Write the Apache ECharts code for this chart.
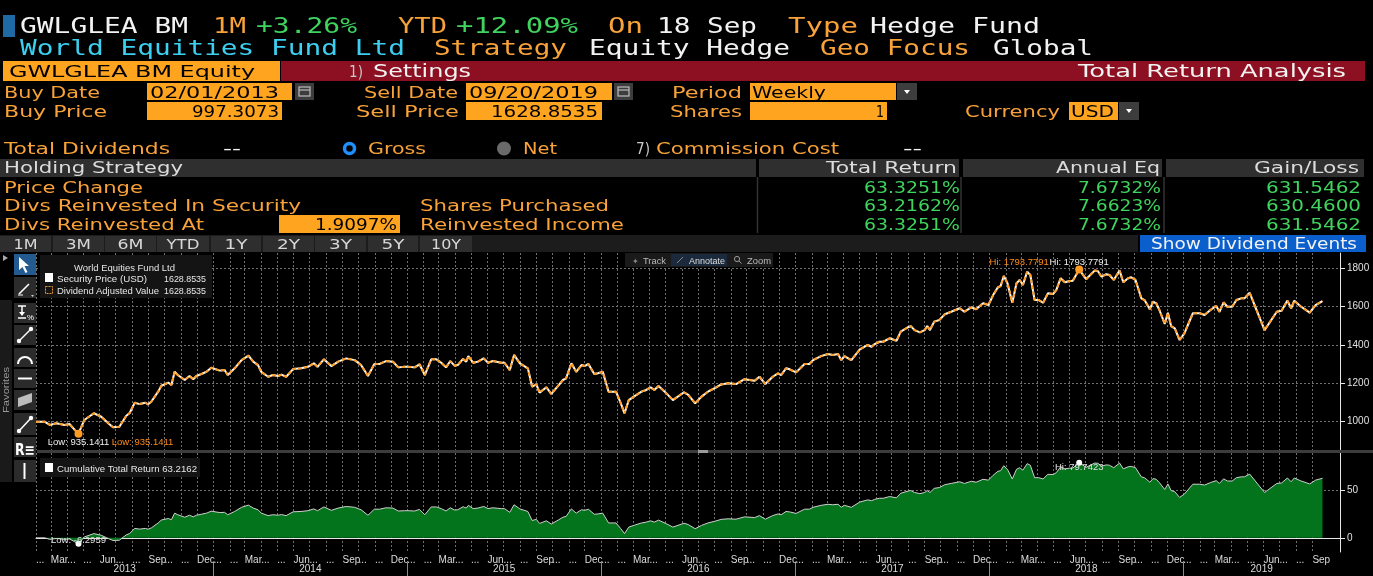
<!DOCTYPE html>
<html><head><meta charset="utf-8">
<script src="https://cdn.jsdelivr.net/npm/echarts@6/dist/echarts.min.js"></script>
<style>
html,body{margin:0;padding:0;background:#000;width:1373px;height:576px;overflow:hidden;}
#chart{position:absolute;left:0;top:0;width:1373px;height:576px;}
#ov{position:absolute;left:0;top:0;width:1373px;height:576px;pointer-events:none;}
</style></head>
<body>
<div id="chart"></div>
<svg id="ov" xmlns="http://www.w3.org/2000/svg" width="1373" height="576"></svg>
<script>
// ---------------- DATA ----------------
const DATES = [
'2013-02-01','2013-02-17','2013-02-27','2013-03-11','2013-03-27','2013-04-05','2013-04-15','2013-04-22','2013-05-03','2013-05-21',
'2013-06-04','2013-06-17','2013-06-26','2013-07-08','2013-07-21','2013-07-27','2013-08-06','2013-08-15','2013-08-26','2013-08-31',
'2013-09-06','2013-09-19','2013-09-25','2013-10-08','2013-10-14','2013-10-20','2013-10-26','2013-11-08','2013-11-17','2013-11-24',
'2013-11-30','2013-12-09','2013-12-19','2013-12-28','2014-01-13','2014-01-22','2014-01-28','2014-02-10','2014-02-23','2014-03-08',
'2014-03-17','2014-03-26','2014-04-01','2014-04-14','2014-04-23','2014-05-03','2014-05-09','2014-05-18','2014-05-31','2014-06-15',
'2014-06-28','2014-07-09','2014-07-16','2014-07-28','2014-08-11','2014-08-24','2014-09-08','2014-09-24','2014-10-06','2014-10-19',
'2014-10-31','2014-11-10','2014-11-22','2014-12-05','2014-12-15','2014-12-27','2015-01-02','2015-01-15','2015-01-24','2015-02-03',
'2015-02-15','2015-02-25','2015-03-06','2015-03-15','2015-03-23','2015-03-31','2015-04-06','2015-04-16','2015-04-22','2015-04-26',
'2015-05-05','2015-05-14','2015-05-25','2015-06-02','2015-06-11','2015-06-27','2015-07-03','2015-07-13','2015-07-21','2015-08-01',
'2015-08-16','2015-08-24','2015-09-01','2015-09-07','2015-09-20','2015-09-29','2015-10-12','2015-10-21','2015-10-27','2015-11-06',
'2015-11-15','2015-11-25','2015-12-01','2015-12-08','2015-12-19','2015-12-26','2016-01-04','2016-01-15','2016-01-29','2016-02-07',
'2016-02-14','2016-02-22','2016-03-04','2016-03-17','2016-03-26','2016-04-03','2016-04-10','2016-04-18','2016-05-03','2016-05-15',
'2016-06-05','2016-06-13','2016-06-26','2016-07-08','2016-07-20','2016-08-02','2016-08-14','2016-08-27','2016-09-11','2016-09-27',
'2016-10-16','2016-10-25','2016-11-05','2016-11-19','2016-11-29','2016-12-05','2016-12-14','2016-12-21','2017-01-02','2017-01-18',
'2017-01-27','2017-02-03','2017-02-18','2017-03-03','2017-03-12','2017-03-22','2017-03-28','2017-04-03','2017-04-16','2017-05-02',
'2017-05-17','2017-05-24','2017-05-30','2017-06-08','2017-06-15','2017-06-27','2017-07-10','2017-07-18','2017-08-01','2017-08-06',
'2017-08-13','2017-08-23','2017-09-01','2017-09-06','2017-09-11','2017-09-19','2017-09-29','2017-10-09','2017-10-21','2017-11-06',
'2017-11-15','2017-11-28','2017-12-07','2017-12-20','2017-12-30','2018-01-08','2018-01-17','2018-01-22','2018-01-28','2018-02-04',
'2018-02-13','2018-02-21','2018-02-27','2018-03-05','2018-03-13','2018-03-19','2018-03-27','2018-04-04','2018-04-12','2018-04-21',
'2018-05-01','2018-05-07','2018-05-15','2018-05-23','2018-06-01','2018-06-07','2018-06-19','2018-07-02','2018-07-18','2018-07-24',
'2018-07-31','2018-08-09','2018-08-15','2018-08-23','2018-09-03','2018-09-10','2018-09-19','2018-09-25','2018-10-03','2018-10-14',
'2018-10-20','2018-10-30','2018-11-05','2018-11-11','2018-11-17','2018-11-27','2018-12-03','2018-12-09','2018-12-16','2018-12-25',
'2019-01-03','2019-01-19','2019-02-01','2019-02-10','2019-02-21','2019-03-04','2019-03-10','2019-03-18','2019-03-25','2019-04-03',
'2019-04-11','2019-04-20','2019-04-26','2019-05-06','2019-06-03','2019-06-26','2019-07-05','2019-07-16','2019-07-23','2019-07-29',
'2019-08-09','2019-08-27','2019-09-07','2019-09-20'
];
// Security price (USD) / dividend adjusted value
const PRICE = [
997.31,998,981,990,981,986,955,935.1411,1007,1042,
1024,990,969,972,1029,1042,1097,1090,1097,1089,
1102,1155,1186,1202,1190,1259,1242,1216,1237,1220,
1237,1247,1259,1280,1265,1268,1242,1277,1320,1343,
1312,1294,1259,1233,1242,1237,1244,1233,1273,1277,
1285,1303,1285,1324,1289,1312,1329,1320,1294,1237,
1300,1300,1315,1312,1282,1285,1285,1282,1298,1242,
1324,1324,1306,1282,1315,1291,1294,1326,1312,1341,
1306,1312,1329,1306,1315,1306,1306,1268,1347,1303,
1277,1181,1193,1150,1178,1143,1185,1216,1225,1303,
1259,1294,1289,1300,1247,1251,1259,1155,1155,1094,
1042,1111,1132,1155,1164,1178,1164,1185,1146,1111,
1152,1138,1094,1129,1155,1173,1193,1199,1195,1220,
1212,1233,1195,1233,1251,1242,1277,1272,1256,1300,
1300,1320,1341,1352,1347,1352,1320,1341,1320,1376,
1399,1390,1404,1416,1416,1434,1421,1469,1492,1498,
1477,1465,1477,1498,1477,1521,1530,1560,1573,1591,
1573,1596,1586,1617,1608,1660,1701,1707,1760,1722,
1620,1722,1739,1713,1782,1765,1634,1634,1620,1669,
1666,1687,1748,1727,1734,1735,1793.7791,1743,1788,1786,
1756,1769,1765,1739,1788,1727,1748,1753,1739,1643,
1634,1586,1625,1617,1582,1509,1568,1498,1486,1425,
1460,1565,1565,1556,1582,1603,1573,1622,1599,1599,
1634,1643,1643,1672,1477,1573,1578,1631,1591,1631,
1603,1568,1608,1628.8535
];
// Cumulative total return (%)
const CUM_RETURN = [
0,0.1,-1.6,-0.7,-1.6,-1.1,-4.2,-6.2959,1.0,4.5,
2.7,-0.7,-2.8,-2.5,3.2,4.5,10.0,9.3,10.0,9.2,
10.5,15.8,18.9,20.5,19.3,26.2,24.5,21.9,24.0,22.3,
24.0,25.0,26.2,28.3,26.8,27.1,24.5,28.0,32.4,34.7,
31.6,29.8,26.2,23.6,24.5,24.0,24.7,23.6,27.6,28.0,
28.8,30.7,28.8,32.8,29.2,31.6,33.3,32.4,29.8,24.0,
30.4,30.4,31.9,31.6,28.5,28.8,28.8,28.5,30.2,24.5,
32.8,32.8,31.0,28.5,31.9,29.5,29.8,33.0,31.6,34.5,
31.0,31.6,33.3,31.0,31.9,31.0,31.0,27.1,35.1,30.7,
28.0,18.4,19.6,15.3,18.1,14.6,18.8,21.9,22.8,30.7,
26.2,29.8,29.2,30.4,25.0,25.4,26.2,15.8,15.8,9.7,
4.5,11.4,13.5,15.8,16.7,18.1,16.7,18.8,14.9,11.4,
15.5,14.1,9.7,13.2,15.8,17.6,19.6,20.2,19.8,22.3,
21.5,23.6,19.8,23.6,25.4,24.5,28.0,27.5,25.9,30.4,
30.4,32.4,34.5,35.6,35.1,35.6,32.4,34.5,32.4,38.0,
40.3,39.4,40.8,42.0,42.0,43.8,42.5,47.3,49.6,50.2,
48.1,46.9,48.1,50.2,48.1,52.5,53.4,56.4,57.7,59.5,
57.7,60.0,59.0,62.1,61.2,66.4,70.6,71.2,76.5,72.7,
62.4,72.7,74.4,71.8,78.7,77.0,63.8,63.8,62.4,67.4,
67.1,69.2,75.3,73.2,73.9,74.0,79.7423,74.8,79.3,79.1,
76.1,77.4,77.0,74.4,79.3,73.2,75.3,75.8,74.4,64.7,
63.8,59.0,62.9,62.1,58.6,51.3,57.2,50.2,49.0,42.9,
46.4,56.9,56.9,56.0,58.6,60.7,57.7,62.6,60.3,60.3,
63.8,64.7,64.7,67.6,48.1,57.7,58.2,63.5,59.5,63.5,
60.7,57.2,61.2,63.2162
];
const PRICE_TICKS = [1000,1200,1400,1600,1800];
const RETURN_TICKS = [0,50];
const YEARS = [2013,2014,2015,2016,2017,2018,2019];
const MONTH_NAMES = ['Jan','Feb','Mar','Apr','May','Jun','Jul','Aug','Sep','Oct','Nov','Dec'];
const NAMED_MONTHS = [2,5,8,11];

// ---------------- OVERLAY (terminal header & chart decorations) ----------------
const O='#f9a23a', W='#f2f2f2', G='#3fd45e', C='#3ccff0', BOX='#ffa41f', HG='#dcdcdc';
const MONO='DejaVu Sans Mono, monospace', SANS='DejaVu Sans, sans-serif', SM='Liberation Sans, Arial, sans-serif';
let s='';
function R(x,y,w,h,f,ex){ s+=`<rect x="${x}" y="${y}" width="${w}" height="${h}" fill="${f}" ${ex||''}/>`; }
function T(x,y,w,t,f,size,fam,anchor,ex){ s+=`<text x="${x}" y="${y}" fill="${f}" font-size="${size}" font-family="${fam}" ${w?`textLength="${w}" lengthAdjust="spacingAndGlyphs"`:''} ${anchor?`text-anchor="${anchor}"`:''} ${ex||''}>${t}</text>`; }
function L(x1,y1,x2,y2,c,w,ex){ s+=`<line x1="${x1}" y1="${y1}" x2="${x2}" y2="${y2}" stroke="${c}" stroke-width="${w}" ${ex||''}/>`; }
function P(pts,f,ex){ s+=`<polygon points="${pts}" fill="${f}" ${ex||''}/>`; }
function cal(x,y){ R(x,y,19,17,'#3d3d3d'); R(x+4,y+4,11,9,'none','stroke="#bdbdbd" stroke-width="1.2"'); L(x+4,y+7,x+15,y+7,'#bdbdbd',1.2); }
function dd(x,y,h){ R(x,y,20,h||17,'#3d3d3d'); P(`${x+7},${y+7} ${x+13},${y+7} ${x+10},${y+11}`,'#fff'); }

// row 1
R(3,15,12,22,'#1f6aa5');
T(20,33,168,'GWLGLEA BM',W,21,MONO);
T(213,33,33,'1M',O,21,MONO);
T(256,33,101,'+3.26%',G,21,MONO);
T(398,33,49,'YTD',O,21,MONO);
T(456,33,122,'+12.09%',G,21,MONO);
T(608,33,35,'On',O,21,MONO);
T(657,33,100,'18 Sep',W,21,MONO);
T(788,33,70,'Type',O,21,MONO);
T(870,33,170,'Hedge Fund',W,21,MONO);
// row 2
T(20,55,385,'World Equities Fund Ltd',C,21,MONO);
T(434,55,133,'Strategy',O,21,MONO);
T(589,55,201,'Equity Hedge',W,21,MONO);
T(820,55,150,'Geo Focus',O,21,MONO);
T(993,55,100,'Global',W,21,MONO);
// row 3
R(3,61,277,20,BOX);
T(9,77,246,'GWLGLEA BM Equity','#000',16,SANS);
R(281,61,1084,20,'#8c1021');
T(349,77,14,'1)','#c8c8c8',15,SANS);
T(373,77,98,'Settings',W,17,SANS);
T(1078,77,268,'Total Return Analysis',W,17,SANS);
// row 4
T(4,98,96,'Buy Date',O,16,SANS);
R(147,83,145,17,BOX); T(150,98,129,'02/01/2013','#000',16,SANS); cal(295,83);
T(364,98,94,'Sell Date',O,16,SANS);
R(466,83,146,17,BOX); T(469,98,129,'09/20/2019','#000',16,SANS); cal(614,83);
T(672,98,70,'Period',O,16,SANS);
R(750,83,146,17,BOX); T(752,98,74,'Weekly','#000',16,SANS); dd(897,83);
// row 5
T(4,117,103,'Buy Price',O,16,SANS);
R(147,102,135,18,BOX); T(192,117,87,'997.3073','#000',16,SANS);
T(356,117,103,'Sell Price',O,16,SANS);
R(466,102,136,18,BOX); T(491,117,107,'1628.8535','#000',16,SANS);
T(670,117,72,'Shares',O,16,SANS);
R(750,102,137,18,BOX); T(876,117,8,'1','#000',16,SANS);
T(965,117,95,'Currency',O,16,SANS);
R(1069,102,49,18,BOX); T(1071,117,43,'USD','#000',16,SANS); dd(1119,102,18);
// row 6
T(4,154,166,'Total Dividends',O,16,SANS);
T(223,154,18,'--',W,16,SANS);
s+='<circle cx="349.5" cy="148.5" r="5" fill="#000" stroke="#1e8fff" stroke-width="3.5"/>';
T(368,154,58,'Gross',O,16,SANS);
s+='<circle cx="504" cy="148.5" r="7" fill="#6a6a6a"/>';
T(523,154,34,'Net',O,16,SANS);
T(636,154,14,'7)','#c8c8c8',15,SANS);
T(656,154,183,'Commission Cost',O,16,SANS);
T(903,154,19,'--',W,16,SANS);
// row 7 header
R(0,159,756,18,'#2f2f2f'); R(759,159,200,18,'#2f2f2f'); R(963,159,199,18,'#2f2f2f'); R(1166,159,198,18,'#2f2f2f');
T(4,173,179,'Holding Strategy',HG,16,SANS);
T(826,173,131,'Total Return',HG,16,SANS);
T(1056,173,104,'Annual Eq',HG,16,SANS);
T(1254,173,105,'Gain/Loss',HG,16,SANS);
L(757.5,177,757.5,233,'#333',1.5); L(961,177,961,233,'#333',1.5); L(1164,177,1164,233,'#333',1.5);
// rows 8-10
T(4,193,139,'Price Change',O,16,SANS);
T(864,193,96,'63.3251%',G,16,SANS); T(1078,193,83,'7.6732%',G,16,SANS); T(1266,193,95,'631.5462',G,16,SANS);
T(4,211,297,'Divs Reinvested In Security',O,16,SANS);
T(420,211,189,'Shares Purchased',O,16,SANS);
T(864,211,96,'63.2162%',G,16,SANS); T(1078,211,83,'7.6623%',G,16,SANS); T(1266,211,95,'630.4600',G,16,SANS);
T(4,230,200,'Divs Reinvested At',O,16,SANS);
R(279,215,121,18,BOX); T(315,230,82,'1.9097%','#000',16,SANS);
T(420,230,204,'Reinvested Income',O,16,SANS);
T(864,230,96,'63.3251%',G,16,SANS); T(1078,230,83,'7.6732%',G,16,SANS); T(1266,230,95,'631.5462',G,16,SANS);
// row 11 buttons
R(0,235,1138,17,'#1c1c1c');
[[0,51,'1M',24],[53,51,'3M',25],[105,51,'6M',26],[157,52,'YTD',33],[211,50,'1Y',23],[263,51,'2Y',23],[315,51,'3Y',23],[368,50,'5Y',23],[420,52,'10Y',30]]
 .forEach(b=>{ R(b[0],236,b[1],16,'#2e2e2e'); T(b[0]+b[1]/2,249,b[3],b[2],'#d8d8d8',14,SANS,'middle'); });
R(1140,235,226,17,'#0b5fcc');
T(1151,249,206,'Show Dividend Events',W,15,SANS);

// left toolbar
P('3,255 3,261 8,258','#aaa');
R(0,300,12,182,'#1a1a1a');
s+=`<text transform="translate(9,413) rotate(-90)" fill="#9a9a9a" font-size="9" font-family="${SM}" textLength="46" lengthAdjust="spacingAndGlyphs">Favorites</text>`;
R(14,254,22,21,'#235a8f');
P('19,257 19,270 22.5,267 25.5,273 27.5,272 24.5,266 29,266','#fff');
R(14,277,22,21,'#2b2b2b'); L(19,294,29,284,'#fff',1.6); L(18,295,23,295,'#fff',1); P('31,295 34,295 32.5,297','#ccc');
R(14,303,22,20,'#2b2b2b'); L(18,306,26,306,'#fff',1.5); L(22,306,22,315,'#fff',1.5); P('19,312 25,312 22,316','#fff'); L(18,318,26,318,'#fff',1.5); T(27,320,7,'%','#fff',8,SM);
R(14,325,22,20,'#2b2b2b'); L(19,341,31,329,'#fff',1.5); s+='<circle cx="19" cy="341" r="2.2" fill="#fff"/><circle cx="31" cy="329" r="2.2" fill="#fff"/>';
R(14,348,22,19,'#2b2b2b'); s+='<path d="M18,364 A7,7 0 0 1 32,364" stroke="#fff" stroke-width="2" fill="none"/>';
R(14,369,22,19,'#2b2b2b'); L(18,378.5,32,378.5,'#fff',2);
R(14,390,22,20,'#2b2b2b'); P('18,407 32,402 32,393 18,398','#bcbcbc');
R(14,413,22,22,'#2b2b2b'); L(19,431,31,418,'#fff',1.5); s+='<circle cx="19" cy="431" r="2.2" fill="#fff"/><circle cx="31" cy="418" r="2.2" fill="#fff"/>';
R(14,437,22,20,'#2b2b2b'); T(15,455,20,'R≡','#fff',15,SANS,null,'font-weight="bold"');
R(14,460,22,22,'#2b2b2b'); L(24.5,463,24.5,479,'#fff',2);

// upper legend
R(40,255,172,43,'#141414');
T(74,270.5,101,'World Equities Fund Ltd','#e6e6e6',9.5,SM);
R(45,273,8,9,'#fff');
T(57,281.5,90,'Security Price (USD)','#e6e6e6',9.5,SM); T(164,281.5,42,'1628.8535','#e6e6e6',9.5,SM);
R(45.5,286.5,7,7,'none','stroke="#f39a2e" stroke-width="1" stroke-dasharray="2,1"');
T(57,293.5,102,'Dividend Adjusted Value','#e6e6e6',9.5,SM); T(164,293.5,42,'1628.8535','#e6e6e6',9.5,SM);

// track / annotate / zoom
R(625,253,148,14,'#1a1a1a'); R(671,254,56,12,'#1a2a3c');
T(632,263.5,0,'✦','#888',8,SANS);
T(643,263.5,23,'Track','#bbbbbb',9,SM);
L(677,263,683,257,'#888',1);
T(689,263.5,36,'Annotate','#dddddd',9,SM);
s+='<circle cx="737" cy="259" r="2.6" fill="none" stroke="#999" stroke-width="1"/>'; L(739,261,741.5,263.5,'#999',1);
T(747,263.5,24,'Zoom','#bbbbbb',9,SM);

// panel separator
R(37,450,1336,3,'#3c3c3c'); R(698,450,10,3,'#9a9a9a');

// lower legend
R(40,458,160,19,'#141414');
R(45,463,8,9,'#fff');
T(57,471.5,140,'Cumulative Total Return 63.2162','#e6e6e6',9.5,SM);

document.getElementById('ov').innerHTML = s;

// ---------------- CHART ----------------
function ts(str){ const p=str.split('-').map(Number); return +new Date(p[0],p[1]-1,p[2]); }
const AX_MIN = +new Date(2013,1,1);
const AX_MAX = +new Date(2019,9,23);
const MONTH_TICKS = [];
for (let d = new Date(2013,1,1); d <= new Date(2019,8,1); d = new Date(d.getFullYear(), d.getMonth()+1, 1)) MONTH_TICKS.push(+d);

const priceData = DATES.map((d,i)=>[ts(d), PRICE[i]]);
const retData = DATES.map((d,i)=>[ts(d), CUM_RETURN[i]]);

const yearAreas = YEARS.map(y=>[
  {xAxis: Math.max(AX_MIN, +new Date(y,0,1)), name: String(y)},
  {xAxis: Math.min(AX_MAX, +new Date(y+1,0,1))}
]);
const yearLines = YEARS.slice(1).map(y=>({xAxis: +new Date(y,0,1)}));

const FONT = 'Liberation Sans, Arial, sans-serif';
const GRIDLINE = {show:true, lineStyle:{color:'#707070', type:[2,2], width:1}};
const plain = v => String(v);

const option = {
  backgroundColor:'#000',
  animation:false,
  textStyle:{fontFamily:FONT},
  grid:[
    {left:36, right:33, top:253, height:197},
    {left:36, right:33, top:453, height:99},
    {left:36, right:33, top:563, height:13}
  ],
  xAxis:[
    {gridIndex:0, type:'value', min:AX_MIN, max:AX_MAX,
     axisLine:{show:false}, axisTick:{show:false, customValues:MONTH_TICKS},
     axisLabel:{show:false, customValues:MONTH_TICKS}, splitLine:GRIDLINE},
    {gridIndex:1, type:'value', min:AX_MIN, max:AX_MAX,
     axisLine:{show:true, lineStyle:{color:'#e8e8e8', width:1}},
     axisTick:{show:false, customValues:MONTH_TICKS},
     axisLabel:{show:true, customValues:MONTH_TICKS, align:'left', color:'#dcdcdc', fontSize:10, margin:3,
       showMinLabel:true, showMaxLabel:true, hideOverlap:false,
       formatter:(v)=>{ const m=new Date(v).getMonth(); return NAMED_MONTHS.includes(m)?MONTH_NAMES[m]:'...'; }},
     splitLine:GRIDLINE},
    {gridIndex:2, type:'value', min:AX_MIN, max:AX_MAX, show:false, splitLine:{show:false}}
  ],
  yAxis:[
    {gridIndex:0, type:'value', position:'right', min:850, max:1880,
     axisLine:{show:true, lineStyle:{color:'#e8e8e8', width:1}},
     axisTick:{show:true, customValues:PRICE_TICKS, length:5, lineStyle:{color:'#e8e8e8'}},
     axisLabel:{customValues:PRICE_TICKS, color:'#e0e0e0', fontSize:10, margin:7, formatter:plain},
     splitLine:GRIDLINE},
    {gridIndex:1, type:'value', position:'right', min:-15, max:90,
     axisLine:{show:true, lineStyle:{color:'#e8e8e8', width:1}},
     axisTick:{show:true, customValues:RETURN_TICKS, length:5, lineStyle:{color:'#e8e8e8'}},
     axisLabel:{customValues:RETURN_TICKS, color:'#e0e0e0', fontSize:10, margin:7, formatter:plain},
     splitLine:GRIDLINE},
    {gridIndex:2, type:'value', min:0, max:1, show:false, splitLine:{show:false}}
  ],
  series:[
    {name:'Security Price (USD)', type:'line', xAxisIndex:0, yAxisIndex:0, data:priceData,
     showSymbol:false, symbol:'none', lineStyle:{color:'#ffffff', width:2}, itemStyle:{color:'#ffffff'}, z:3,
     markPoint:{silent:true, symbol:'circle', symbolSize:1, itemStyle:{color:'rgba(0,0,0,0)'},
       label:{show:true, position:'inside', color:'#f0f0f0', fontSize:9.5, fontFamily:FONT,
         formatter:p=>p.name+': '+Number(p.value).toFixed(4)},
       data:[{type:'max', name:'Hi', label:{offset:[0,-7]}},{type:'min', name:'Low', label:{offset:[0,9]}}]}},
    {name:'Dividend Adjusted Value', type:'line', xAxisIndex:0, yAxisIndex:0, data:priceData,
     showSymbol:false, symbol:'none', lineStyle:{color:'#ff9a22', width:2, type:[4,2]}, itemStyle:{color:'#ff9a22'}, z:4,
     markPoint:{silent:true, symbol:'circle', symbolSize:8, itemStyle:{color:'#ff9a22'},
       label:{show:true, position:'inside', color:'#ff8c1a', fontSize:9.5, fontFamily:FONT,
         formatter:p=>p.name+': '+Number(p.value).toFixed(4)},
       data:[{type:'max', name:'Hi', label:{offset:[-60,-7]}},{type:'min', name:'Low', label:{offset:[64,9]}}]}},
    {name:'Cumulative Total Return area', type:'line', xAxisIndex:1, yAxisIndex:1, data:retData,
     showSymbol:false, symbol:'none', lineStyle:{width:0, color:'#03731c'}, itemStyle:{color:'#03731c'},
     areaStyle:{opacity:1, color:'#03731c'}, z:2},
    {name:'Cumulative Total Return', type:'line', xAxisIndex:1, yAxisIndex:1, data:retData,
     showSymbol:false, symbol:'none', lineStyle:{color:'#cfcfcf', width:1}, itemStyle:{color:'#ffffff'}, z:3,
     markPoint:{silent:true, symbol:'circle', symbolSize:6, itemStyle:{color:'#ffffff'},
       label:{show:true, position:'inside', color:'#e0e0e0', fontSize:9.5, fontFamily:FONT,
         formatter:p=>p.name+': '+Number(p.value).toFixed(4)},
       data:[{type:'max', name:'Hi', label:{offset:[0,5]}},{type:'min', name:'Low', label:{offset:[0,-3]}}]}},
    {name:'years', type:'line', xAxisIndex:2, yAxisIndex:2, data:[], silent:true,
     markArea:{silent:true, itemStyle:{color:'rgba(0,0,0,0)'},
       label:{show:true, position:'inside', color:'#dcdcdc', fontSize:10, fontFamily:FONT},
       data:yearAreas},
     markLine:{silent:true, symbol:['none','none'], label:{show:false},
       lineStyle:{color:'#8a8a8a', type:'solid', width:1}, data:yearLines}}
  ]
};
const chart = echarts.init(document.getElementById('chart'));
chart.setOption(option);
</script>
</body></html>
